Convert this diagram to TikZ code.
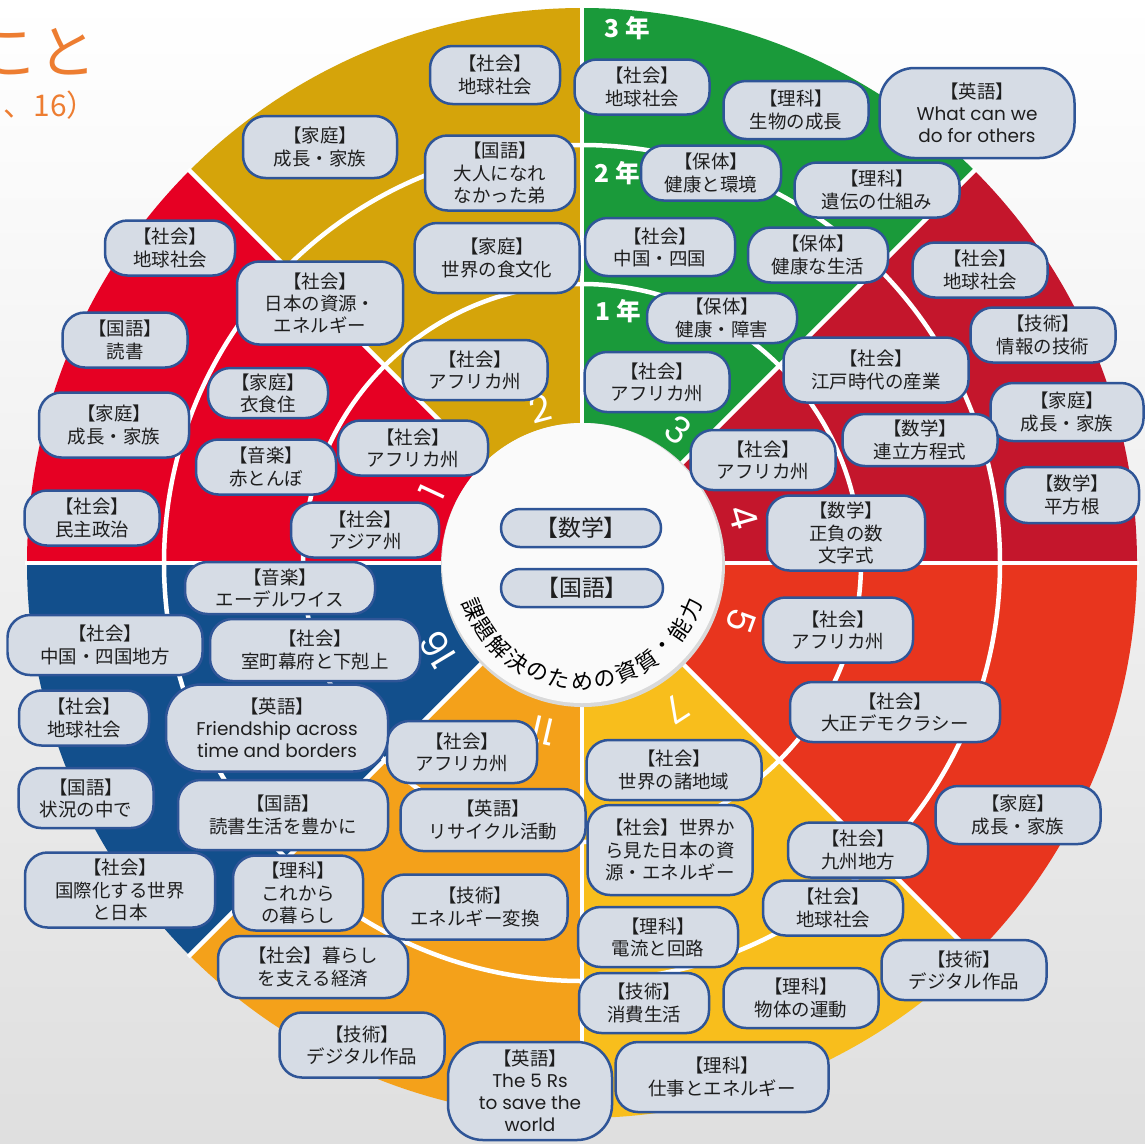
\documentclass[tikz,border=0pt]{standalone}
\usepackage{fontspec}
\setmainfont{Noto Sans CJK JP}
\newfontfamily\enfont{Poppins}
\definecolor{sdgred}{HTML}{E60023}
\definecolor{sdgmustard}{HTML}{D5A40A}
\definecolor{sdggreen}{HTML}{1A9A3A}
\definecolor{sdgcrimson}{HTML}{C4162C}
\definecolor{sdgorangered}{HTML}{E8351E}
\definecolor{sdgyellow}{HTML}{F8BE1C}
\definecolor{sdgorange}{HTML}{F4A11A}
\definecolor{sdgnavy}{HTML}{124F8C}
\definecolor{boxfill}{HTML}{D6DCE5}
\definecolor{boxline}{HTML}{2F5597}
\definecolor{txtdark}{HTML}{1E1E1E}
\definecolor{titleorange}{HTML}{ED7D31}
\tikzset{
  kbox/.style 2 args={draw=boxline, fill=boxfill, line width=0.05cm, rounded corners=0.45cm,
    align=center, inner sep=1pt, text=txtdark, font=\fontsize{10.5}{12.6}\selectfont,
    minimum width=#1*0.02cm, minimum height=#2*0.02cm},
  nenlabel/.style={text=white, font=\bfseries\fontsize{14}{14}\selectfont, inner sep=0pt},
  sdgnum/.style={text=white, font=\enfont\fontsize{21}{21}\selectfont, inner sep=0pt},
  kadai/.style={font=\fontsize{12.5}{12.5}\selectfont, inner sep=0pt},
}
\begin{document}
\begin{tikzpicture}[x=0.02cm, y=-0.02cm]
\useasboundingbox (0,0) rectangle (1145,1143);
\shade[top color=white, bottom color=gray!25] (0,0) rectangle (1145,1143);

\node[anchor=east, text=titleorange, font=\fontsize{33}{33}\selectfont, inner sep=0pt] (title) at (97,52) {こと};
\node[anchor=east, text=titleorange, font=\fontsize{17}{17}\selectfont, inner sep=0pt] (subtitle) at (97,105) {、16）};

\begin{scope}[shift={(582,563)}, y=0.02cm]
\foreach \a/\col in {0/sdgcrimson, 45/sdggreen, 90/sdgmustard, 135/sdgred, 180/sdgnavy, 225/sdgorange, 270/sdgyellow, 315/sdgorangered}
  \fill[\col] (0,0) -- (\a:555) arc[start angle=\a, end angle=\a+45, radius=555] -- cycle;
\foreach \r in {279,418} \draw[white, line width=0.09cm] (0,0) circle (\r);
\foreach \a in {0,45,...,315} \draw[white, line width=0.09cm] (\a:140) -- (\a:557);
\fill[black!15] (1,-2) circle (142);
\fill[white!98!black] (0,0) circle (140);

\foreach \n/\a/\r in {1/155/166, 2/105/160, 3/54/164, 4/16/168, 5/-20/169, 7/-57/174, 11/-103/172, 16/-149/168}
  \node[sdgnum, rotate=\a-90] (num\n) at (\a:\r) {\n};

\foreach \ch [count=\i from 0] in {課,題,解,決,の,た,め,の,資,質,・,能,力}{
  \pgfmathsetmacro\ang{-157+\i*11.17}
  \pgfmathsetmacro\rot{\ang+90}
  \node[kadai, rotate=\rot] (kadai\i) at (\ang:118) {\ch};
}
\end{scope}

\node[nenlabel] (nen3) at (627,28) {3 年};
\node[nenlabel] (nen2) at (617,173) {2 年};
\node[nenlabel] (nen1) at (618,311) {1 年};

% mustard
\node[kbox={130}{58}] (mu1) at (495,75) {【社会】\\地球社会};
\node[kbox={154}{62}] (mu2) at (320,147) {【家庭】\\成長・家族};
\node[kbox={150}{75}] (mu3) at (500,173) {【国語】\\大人になれ\\なかった弟};
\node[kbox={165}{70}] (mu4) at (497,258) {【家庭】\\世界の食文化};
\node[kbox={145}{60}] (mu5) at (475,370) {【社会】\\アフリカ州};

% green
\node[kbox={135}{55}] (gr1) at (642,87) {【社会】\\地球社会};
\node[kbox={145}{58}] (gr2) at (796,110) {【理科】\\生物の成長};
\node[kbox={195}{90}, rounded corners=0.7cm] (gr3) at (977,113) {【英語】\\{\enfont What can we}\\{\enfont do for others}};
\node[kbox={140}{55}] (gr4) at (711,173) {【保体】\\健康と環境};
\node[kbox={165}{55}] (gr5) at (877,190) {【理科】\\遺伝の仕組み};
\node[kbox={150}{58}] (gr6) at (660,247) {【社会】\\中国・四国};
\node[kbox={140}{55}] (gr7) at (818,255) {【保体】\\健康な生活};
\node[kbox={150}{50}] (gr8) at (722,318) {【保体】\\健康・障害};
\node[kbox={145}{60}] (gr9) at (657,382) {【社会】\\アフリカ州};

% crimson
\node[kbox={135}{55}] (cr1) at (980,270) {【社会】\\地球社会};
\node[kbox={145}{55}] (cr2) at (1043,335) {【技術】\\情報の技術};
\node[kbox={185}{65}] (cr3) at (876,370) {【社会】\\江戸時代の産業};
\node[kbox={153}{58}] (cr4) at (1067,412) {【家庭】\\成長・家族};
\node[kbox={155}{52}] (cr5) at (920,440) {【数学】\\連立方程式};
\node[kbox={145}{60}] (cr6) at (763,460) {【社会】\\アフリカ州};
\node[kbox={134}{56}] (cr7) at (1072,495) {【数学】\\平方根};
\node[kbox={158}{75}] (cr8) at (846,533) {【数学】\\正負の数\\文字式};

% orange red
\node[kbox={150}{65}] (or1) at (838,630) {【社会】\\アフリカ州};
\node[kbox={210}{60}] (or2) at (895,712) {【社会】\\大正デモクラシー};
\node[kbox={165}{58}] (or3) at (1018,815) {【家庭】\\成長・家族};

% yellow
\node[kbox={175}{60}] (ye1) at (674,770) {【社会】\\世界の諸地域};
\node[kbox={165}{90}] (ye2) at (670,850) {【社会】世界か\\ら見た日本の資\\源・エネルギー};
\node[kbox={140}{55}] (ye3) at (858,850) {【社会】\\九州地方};
\node[kbox={140}{55}] (ye4) at (833,908) {【社会】\\地球社会};
\node[kbox={160}{60}] (ye5) at (658,937) {【理科】\\電流と回路};
\node[kbox={165}{60}] (ye6) at (964,970) {【技術】\\デジタル作品};
\node[kbox={130}{60}] (ye7) at (644,1003) {【技術】\\消費生活};
\node[kbox={155}{60}] (ye8) at (801,998) {【理科】\\物体の運動};
\node[kbox={213}{70}] (ye9) at (722,1077) {【理科】\\仕事とエネルギー};

% orange
\node[kbox={150}{62}] (og1) at (462,752) {【社会】\\アフリカ州};
\node[kbox={185}{62}] (og2) at (493,820) {【英語】\\リサイクル活動};
\node[kbox={185}{65}] (og3) at (475,907) {【技術】\\エネルギー変換};
\node[kbox={130}{75}] (og4) at (298,893) {【理科】\\これから\\の暮らし};
\node[kbox={190}{62}] (og5) at (313,967) {【社会】暮らし\\を支える経済};
\node[kbox={165}{65}] (og6) at (362,1045) {【技術】\\デジタル作品};
\node[kbox={164}{98}, rounded corners=0.7cm] (og7) at (530,1091) {【英語】\\{\enfont The 5 Rs}\\{\enfont to save the}\\{\enfont world}};

% navy
\node[kbox={190}{52}] (nv1) at (280,588) {【音楽】\\エーデルワイス};
\node[kbox={195}{60}] (nv2) at (105,645) {【社会】\\中国・四国地方};
\node[kbox={210}{62}] (nv3) at (315,650) {【社会】\\室町幕府と下剋上};
\node[kbox={130}{55}] (nv4) at (84,718) {【社会】\\地球社会};
\node[kbox={222}{87}, rounded corners=0.7cm] (nv5) at (277,728) {【英語】\\{\enfont Friendship across}\\{\enfont time and borders}};
\node[kbox={135}{60}] (nv6) at (86,798) {【国語】\\状況の中で};
\node[kbox={210}{70}] (nv7) at (283,815) {【国語】\\読書生活を豊かに};
\node[kbox={190}{75}] (nv8) at (120,890) {【社会】\\国際化する世界\\と日本};

% red
\node[kbox={130}{55}] (rd1) at (170,248) {【社会】\\地球社会};
\node[kbox={166}{83}] (rd2) at (320,303) {【社会】\\日本の資源・\\エネルギー};
\node[kbox={125}{55}] (rd3) at (125,340) {【国語】\\読書};
\node[kbox={120}{50}] (rd4) at (268,393) {【家庭】\\衣食住};
\node[kbox={150}{65}] (rd5) at (114,425) {【家庭】\\成長・家族};
\node[kbox={150}{55}] (rd6) at (413,448) {【社会】\\アフリカ州};
\node[kbox={140}{55}] (rd7) at (266,467) {【音楽】\\赤とんぼ};
\node[kbox={135}{55}] (rd8) at (92,518) {【社会】\\民主政治};
\node[kbox={148}{55}] (rd9) at (365,530) {【社会】\\アジア州};

% center
\node[kbox={160}{38}, font=\fontsize{13}{13}\selectfont, rounded corners=0.38cm] (csugaku) at (581,528) {【数学】};
\node[kbox={162}{38}, font=\fontsize{13}{13}\selectfont, rounded corners=0.38cm] (ckokugo) at (582,588) {【国語】};
\end{tikzpicture}
\end{document}
